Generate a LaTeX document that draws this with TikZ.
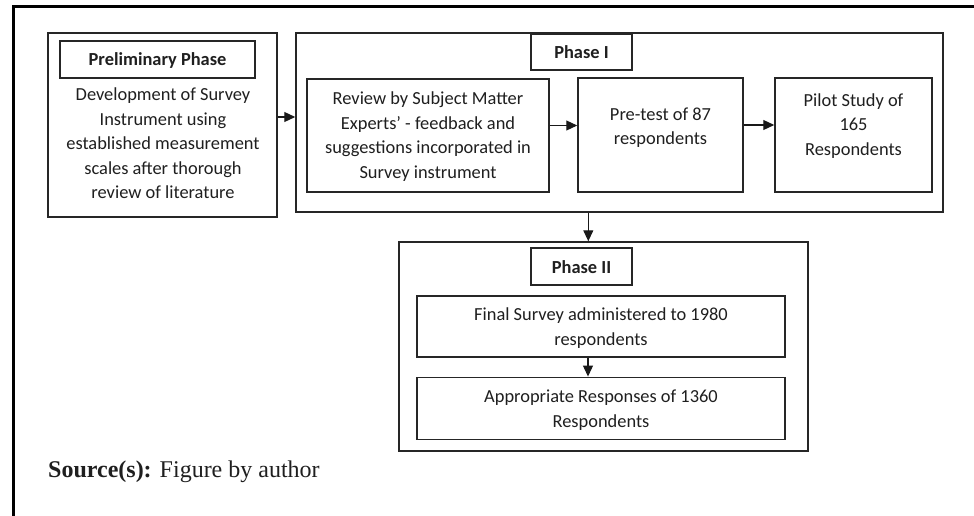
\documentclass[tikz,border=0pt]{standalone}
\usepackage{fontspec}
\setmainfont{Carlito}
\newfontfamily\srcfont{Liberation Serif}
\usetikzlibrary{arrows.meta}
\begin{document}
\begin{tikzpicture}[x=1pt,y=-1pt,
  box/.style={draw=black!85, line width=1.5pt, inner sep=0pt, fill=white},
  txt/.style={align=center, inner sep=0pt, font=\fontsize{18.4}{24.5}\selectfont, text=black!88},
  ttl/.style={align=center, inner sep=0pt, font=\fontsize{18.4}{24.5}\selectfont\bfseries, text=black!88},
  arr/.style={draw=black!90, line width=1.1pt, -{Triangle[length=11pt,width=10pt]}}]
\useasboundingbox (0,0) rectangle (974,516);
% outer frame
\draw[line width=3pt, black] (13,516) -- (13,6.5) -- (974,6.5);
% Preliminary
\node[box, minimum width=229pt, minimum height=184pt] (prelim) at (162.5,125) {};
\node[box, minimum width=195pt, minimum height=37pt] (prelimT) at (157.5,59.5) {};
\node[ttl] (prelimTt) at (157.5,60) {Preliminary Phase};
\node[txt] (prelimt) at (163,143.5) {Development of Survey\\Instrument using\\established measurement\\scales after thorough\\review of literature};
% Phase I
\node[box, minimum width=647pt, minimum height=179pt] (ph1) at (619.5,122.5) {};
\node[box, minimum width=101pt, minimum height=36pt] (ph1T) at (581.5,52) {};
\node[ttl] (ph1Tt) at (581.5,52.5) {Phase I};
\node[box, minimum width=242pt, minimum height=113pt] (rev) at (428,135.5) {};
\node[txt] (revt) at (428,136.5) {Review by Subject Matter\\Experts' - feedback and\\suggestions incorporated in\\Survey instrument};
\node[box, minimum width=165pt, minimum height=114pt] (pre) at (660.5,135) {};
\node[txt] (pret) at (660.5,127.5) {Pre-test of 87\\respondents};
\node[box, minimum width=157pt, minimum height=114pt] (pil) at (853.5,135) {};
\node[txt] (pilt) at (853.5,126) {Pilot Study of\\165\\Respondents};
% Phase II
\node[box, minimum width=409pt, minimum height=209pt] (ph2) at (603.5,346.5) {};
\node[box, minimum width=101pt, minimum height=37pt] (ph2T) at (581.5,266.5) {};
\node[ttl] (ph2Tt) at (581.5,267) {Phase II};
\node[box, minimum width=368pt, minimum height=61pt] (fin) at (601,326.5) {};
\node[txt] (fint) at (601,328.3) {Final Survey administered to 1980\\respondents};
\node[box, minimum width=368pt, minimum height=62pt] (app) at (601,408.3) {};
\node[txt] (appt) at (601,410.3) {Appropriate Responses of 1360\\Respondents};
% connectors
\draw[arr] ([yshift=8pt]prelim.east) -- ([yshift=8pt]prelim.east -| ph1.west);
\draw[arr] ([yshift=10pt]rev.east) -- ([yshift=10pt]rev.east -| pre.west);
\draw[arr] ([yshift=10pt]pre.east) -- ([yshift=10pt]pre.east -| pil.west);
\draw[arr] ([xshift=-31.2pt]ph1.south) -- ([xshift=-31.2pt]ph1.south |- ph2.north);
\draw[arr] ([xshift=-13pt]fin.south) -- ([xshift=-13pt]fin.south |- app.north);
% source
\node[anchor=west, inner sep=0pt, font=\srcfont\fontsize{24}{28}\selectfont, text=black!88] (src) at (48,472) {\textbf{Source(s):} Figure by author};
\end{tikzpicture}
\end{document}
